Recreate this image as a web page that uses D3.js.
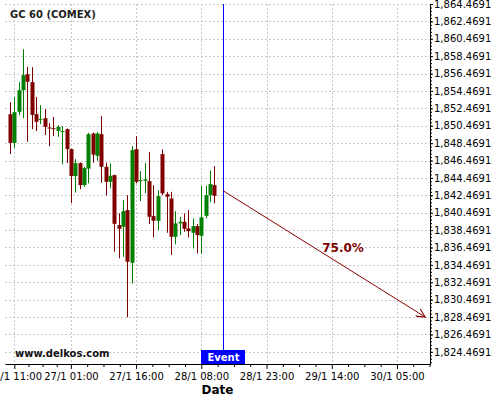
<!DOCTYPE html>
<html>
<head>
<meta charset="utf-8">
<script src="https://cdn.jsdelivr.net/npm/d3@7"></script>
<style>
    body { margin: 0; background: #fff; }
    svg { font-family: "DejaVu Sans", sans-serif; }
</style>
</head>
<body>
<div id="chart"></div>
<script>
// candle values, one slot per trading hour
var opens  = [1851.80, 1848.50, 1852.07, 1854.56, 1856.40, 1855.48, 1851.80, 1851.19, 1851.34, 1850.27,
              1850.19, 1849.88, 1849.77, 1850.08, 1847.78, 1844.68, 1846.17, 1843.64, 1845.54, 1849.56,
              1847.01, 1849.50, 1845.75, 1844.02, 1844.79, 1839.05, 1838.85, 1840.77, 1834.71, 1847.78,
              1844.10, 1844.14, 1844.10, 1840.08, 1839.54, 1847.21, 1842.61, 1842.11, 1837.70, 1839.24,
              1839.42, 1838.66, 1838.16, 1838.93, 1837.81, 1840.11, 1842.49, 1843.64];
var highs  = [1853.18, 1853.76, 1855.48, 1859.27, 1857.24, 1857.21, 1853.79, 1852.84, 1852.38, 1850.77,
              1851.49, 1850.54, 1850.42, 1850.15, 1847.85, 1846.63, 1846.25, 1845.75, 1849.65, 1849.70,
              1849.73, 1851.57, 1846.23, 1846.14, 1844.85, 1840.39, 1841.92, 1842.49, 1848.12, 1849.27,
              1845.25, 1846.17, 1847.47, 1843.64, 1843.07, 1847.75, 1842.87, 1842.87, 1840.65, 1840.00,
              1840.39, 1840.77, 1839.81, 1839.16, 1843.53, 1843.56, 1845.29, 1845.83];
var lows   = [1847.21, 1847.90, 1851.69, 1851.34, 1848.62, 1850.08, 1849.85, 1850.65, 1849.39, 1848.12,
              1849.27, 1849.19, 1846.02, 1846.17, 1841.57, 1842.78, 1843.18, 1843.45, 1843.84, 1846.21,
              1846.44, 1843.91, 1842.46, 1843.26, 1835.98, 1835.22, 1835.40, 1828.44, 1832.34, 1843.84,
              1841.80, 1842.72, 1839.16, 1837.63, 1838.47, 1842.49, 1838.16, 1835.60, 1836.83, 1837.90,
              1838.27, 1837.63, 1836.37, 1835.79, 1835.71, 1839.81, 1841.65, 1841.54];
var closes = [1848.50, 1852.03, 1854.56, 1856.29, 1855.52, 1851.72, 1850.92, 1851.26, 1850.34, 1850.19,
              1850.11, 1850.34, 1849.85, 1847.78, 1844.68, 1846.17, 1843.64, 1845.60, 1849.50, 1847.15,
              1849.59, 1845.75, 1844.02, 1844.71, 1839.19, 1838.62, 1840.65, 1834.83, 1847.67, 1844.02,
              1844.22, 1844.30, 1840.00, 1839.54, 1842.38, 1842.69, 1842.30, 1837.70, 1839.24, 1839.42,
              1838.62, 1838.35, 1838.93, 1837.90, 1839.93, 1842.49, 1843.76, 1842.41];

// x axis labels, placed on slot indexes
var xTickIdx    = [1, 14, 29, 44, 59, 74, 89];
var xTickLabels = ["26/1 11:00", "27/1 01:00", "27/1 16:00", "28/1 08:00", "28/1 23:00", "29/1 14:00", "30/1 05:00"];

// y axis labels
var yTicks = [1824.4691, 1826.4691, 1828.4691, 1830.4691, 1832.4691, 1834.4691, 1836.4691, 1838.4691,
              1840.4691, 1842.4691, 1844.4691, 1846.4691, 1848.4691, 1850.4691, 1852.4691, 1854.4691,
              1856.4691, 1858.4691, 1860.4691, 1862.4691, 1864.4691];

// event and forecast
var eventIdx = 49;
var arrowFrom = {idx: 49, price: 1843.0};
var arrowTo = {idx: 95.5, price: 1828.4691};
var forecastLabel = "75.0%";
var forecastLabelAt = {idx: 76.6, price: 1836.4};

// snap to the pixel grid so 1px lines stay crisp
function crisp(v) { return Math.round(v) + 0.5; }

class CandleChart
{
    constructor()
    {
        this.width = 500;
        this.height = 400;
        this.plot = {left: 5, right: 430, top: 4, bottom: 364};
        this.initialize();
    }

    initialize()
    {
        var p = this.plot;

        // Set the ranges
        this.xScale = d3.scaleLinear().domain([-1.15, 96.6]).range([p.left, p.right]);
        this.yScale = d3.scaleLinear().domain([1823.07, 1864.47]).range([p.bottom, p.top]);

        this.svg = d3.select("#chart")
            .append("svg")
            .attr("width", this.width)
            .attr("height", this.height);

        var defs = this.svg.append("defs");
        defs.append("marker")
            .attr("id", "head")
            .attr("viewBox", "0 0 10 10")
            .attr("refX", 10).attr("refY", 5)
            .attr("markerWidth", 10).attr("markerHeight", 9)
            .attr("markerUnits", "userSpaceOnUse")
            .attr("orient", "auto")
            .append("path")
            .attr("d", "M0,0 L10,5 L0,10")
            .attr("fill", "none")
            .attr("stroke", "#8b0000")
            .attr("stroke-width", 1.2);

        // grid
        this.svg.append("g")
            .selectAll("line")
            .data(yTicks)
            .join("line")
            .attr("x1", p.left).attr("x2", p.right)
            .attr("y1", d => crisp(this.yScale(d))).attr("y2", d => crisp(this.yScale(d)))
            .attr("stroke", "#c8c8c8")
            .attr("stroke-dasharray", "2,2");
        this.svg.append("g")
            .selectAll("line")
            .data(xTickIdx)
            .join("line")
            .attr("x1", d => crisp(this.xScale(d))).attr("x2", d => crisp(this.xScale(d)))
            .attr("y1", p.top).attr("y2", p.bottom)
            .attr("stroke", "#c8c8c8")
            .attr("stroke-dasharray", "2,2");

        // candles
        var candles = this.svg.append("g")
            .selectAll("g")
            .data(opens.map((o, i) => ({i: i, o: o, h: highs[i], l: lows[i], c: closes[i]})))
            .join("g")
            .attr("fill", d => d.c >= d.o ? "#008000" : "#800000")
            .attr("stroke", d => d.c >= d.o ? "#008000" : "#800000");
        candles.append("line")
            .attr("x1", d => crisp(this.xScale(d.i)))
            .attr("x2", d => crisp(this.xScale(d.i)))
            .attr("y1", d => this.yScale(d.h))
            .attr("y2", d => this.yScale(d.l));
        candles.append("rect")
            .attr("stroke", "none")
            .attr("x", d => Math.round(this.xScale(d.i)) - 1.5)
            .attr("width", 4)
            .attr("y", d => this.yScale(Math.max(d.o, d.c)))
            .attr("height", d => Math.max(1, this.yScale(Math.min(d.o, d.c)) - this.yScale(Math.max(d.o, d.c))));

        // event line
        this.svg.append("line")
            .attr("x1", crisp(this.xScale(eventIdx))).attr("x2", crisp(this.xScale(eventIdx)))
            .attr("y1", p.top).attr("y2", p.bottom)
            .attr("stroke", "#0000ff")
            .attr("stroke-width", 1);

        // forecast arrow
        this.svg.append("line")
            .attr("x1", this.xScale(arrowFrom.idx)).attr("y1", this.yScale(arrowFrom.price))
            .attr("x2", this.xScale(arrowTo.idx)).attr("y2", this.yScale(arrowTo.price))
            .attr("stroke", "#8b0000")
            .attr("stroke-width", 1)
            .attr("marker-end", "url(#head)");
        this.svg.append("text")
            .attr("x", this.xScale(forecastLabelAt.idx))
            .attr("y", this.yScale(forecastLabelAt.price))
            .attr("dy", "0.35em")
            .style("text-anchor", "middle")
            .style("font-size", "12px")
            .style("font-weight", "bold")
            .attr("fill", "#800000")
            .text(forecastLabel);

        // minor x ticks: four steps between labelled ticks
        var minorX = [];
        for (var k = 0; k < xTickIdx.length - 1; k++)
            for (var j = 1; j < 4; j++)
                minorX.push(xTickIdx[k] + (xTickIdx[k + 1] - xTickIdx[k]) * j / 4);
        minorX.push(92.75, 96.5);

        // Add the X Axis
        this.svg.append("g")
            .attr("transform", "translate(0," + p.bottom + ")")
            .call(d3.axisBottom(this.xScale).tickValues(minorX).tickSize(3).tickFormat(""))
            .call(g => g.select(".domain").remove());
        this.svg.append("g")
            .attr("transform", "translate(0," + p.bottom + ")")
            .call(d3.axisBottom(this.xScale)
                .tickValues(xTickIdx)
                .tickFormat((d, i) => xTickLabels[i])
                .tickSize(5).tickSizeOuter(0).tickPadding(4))
            .call(g => g.selectAll("text").style("font-size", "10px").style("font-family", "DejaVu Sans"));

        // Add the Y Axis
        this.svg.append("g")
            .attr("transform", "translate(" + p.right + ",0)")
            .call(d3.axisRight(this.yScale).tickValues(d3.range(1823.2691, 1864.5, 0.4)).tickSize(2).tickFormat(""))
            .call(g => g.select(".domain").remove());
        this.svg.append("g")
            .attr("transform", "translate(" + p.right + ",0)")
            .call(d3.axisRight(this.yScale)
                .tickValues(yTicks)
                .tickFormat(d3.format(",.4f"))
                .tickSize(3).tickSizeOuter(0).tickPadding(1))
            .call(g => g.selectAll("text").style("font-size", "10px").style("font-family", "DejaVu Sans"));

        // event tag
        this.svg.append("rect")
            .attr("x", Math.round(this.xScale(eventIdx)) - 22).attr("y", p.bottom - 14)
            .attr("width", 44).attr("height", 14)
            .attr("fill", "#0000ff");
        this.svg.append("text")
            .attr("x", Math.round(this.xScale(eventIdx)) + 0.5).attr("y", p.bottom - 3)
            .style("text-anchor", "middle")
            .style("font-size", "10px")
            .style("font-weight", "bold")
            .attr("fill", "#fff")
            .text("Event");

        // title and watermark
        this.svg.append("text")
            .attr("x", 10).attr("y", 18)
            .style("font-size", "10px")
            .style("font-weight", "bold")
            .attr("fill", "#222")
            .text("GC 60 (COMEX)");
        this.svg.append("text")
            .attr("x", 15).attr("y", 357)
            .style("font-size", "10px")
            .style("font-weight", "bold")
            .attr("fill", "#111")
            .text("www.delkos.com");

        // text label for the x axis
        this.svg.append("text")
            .attr("x", (p.left + p.right) / 2).attr("y", 394)
            .style("text-anchor", "middle")
            .style("font-size", "12px")
            .style("font-weight", "bold")
            .text("Date");
    }
};

new CandleChart();
</script>
</body>
</html>
